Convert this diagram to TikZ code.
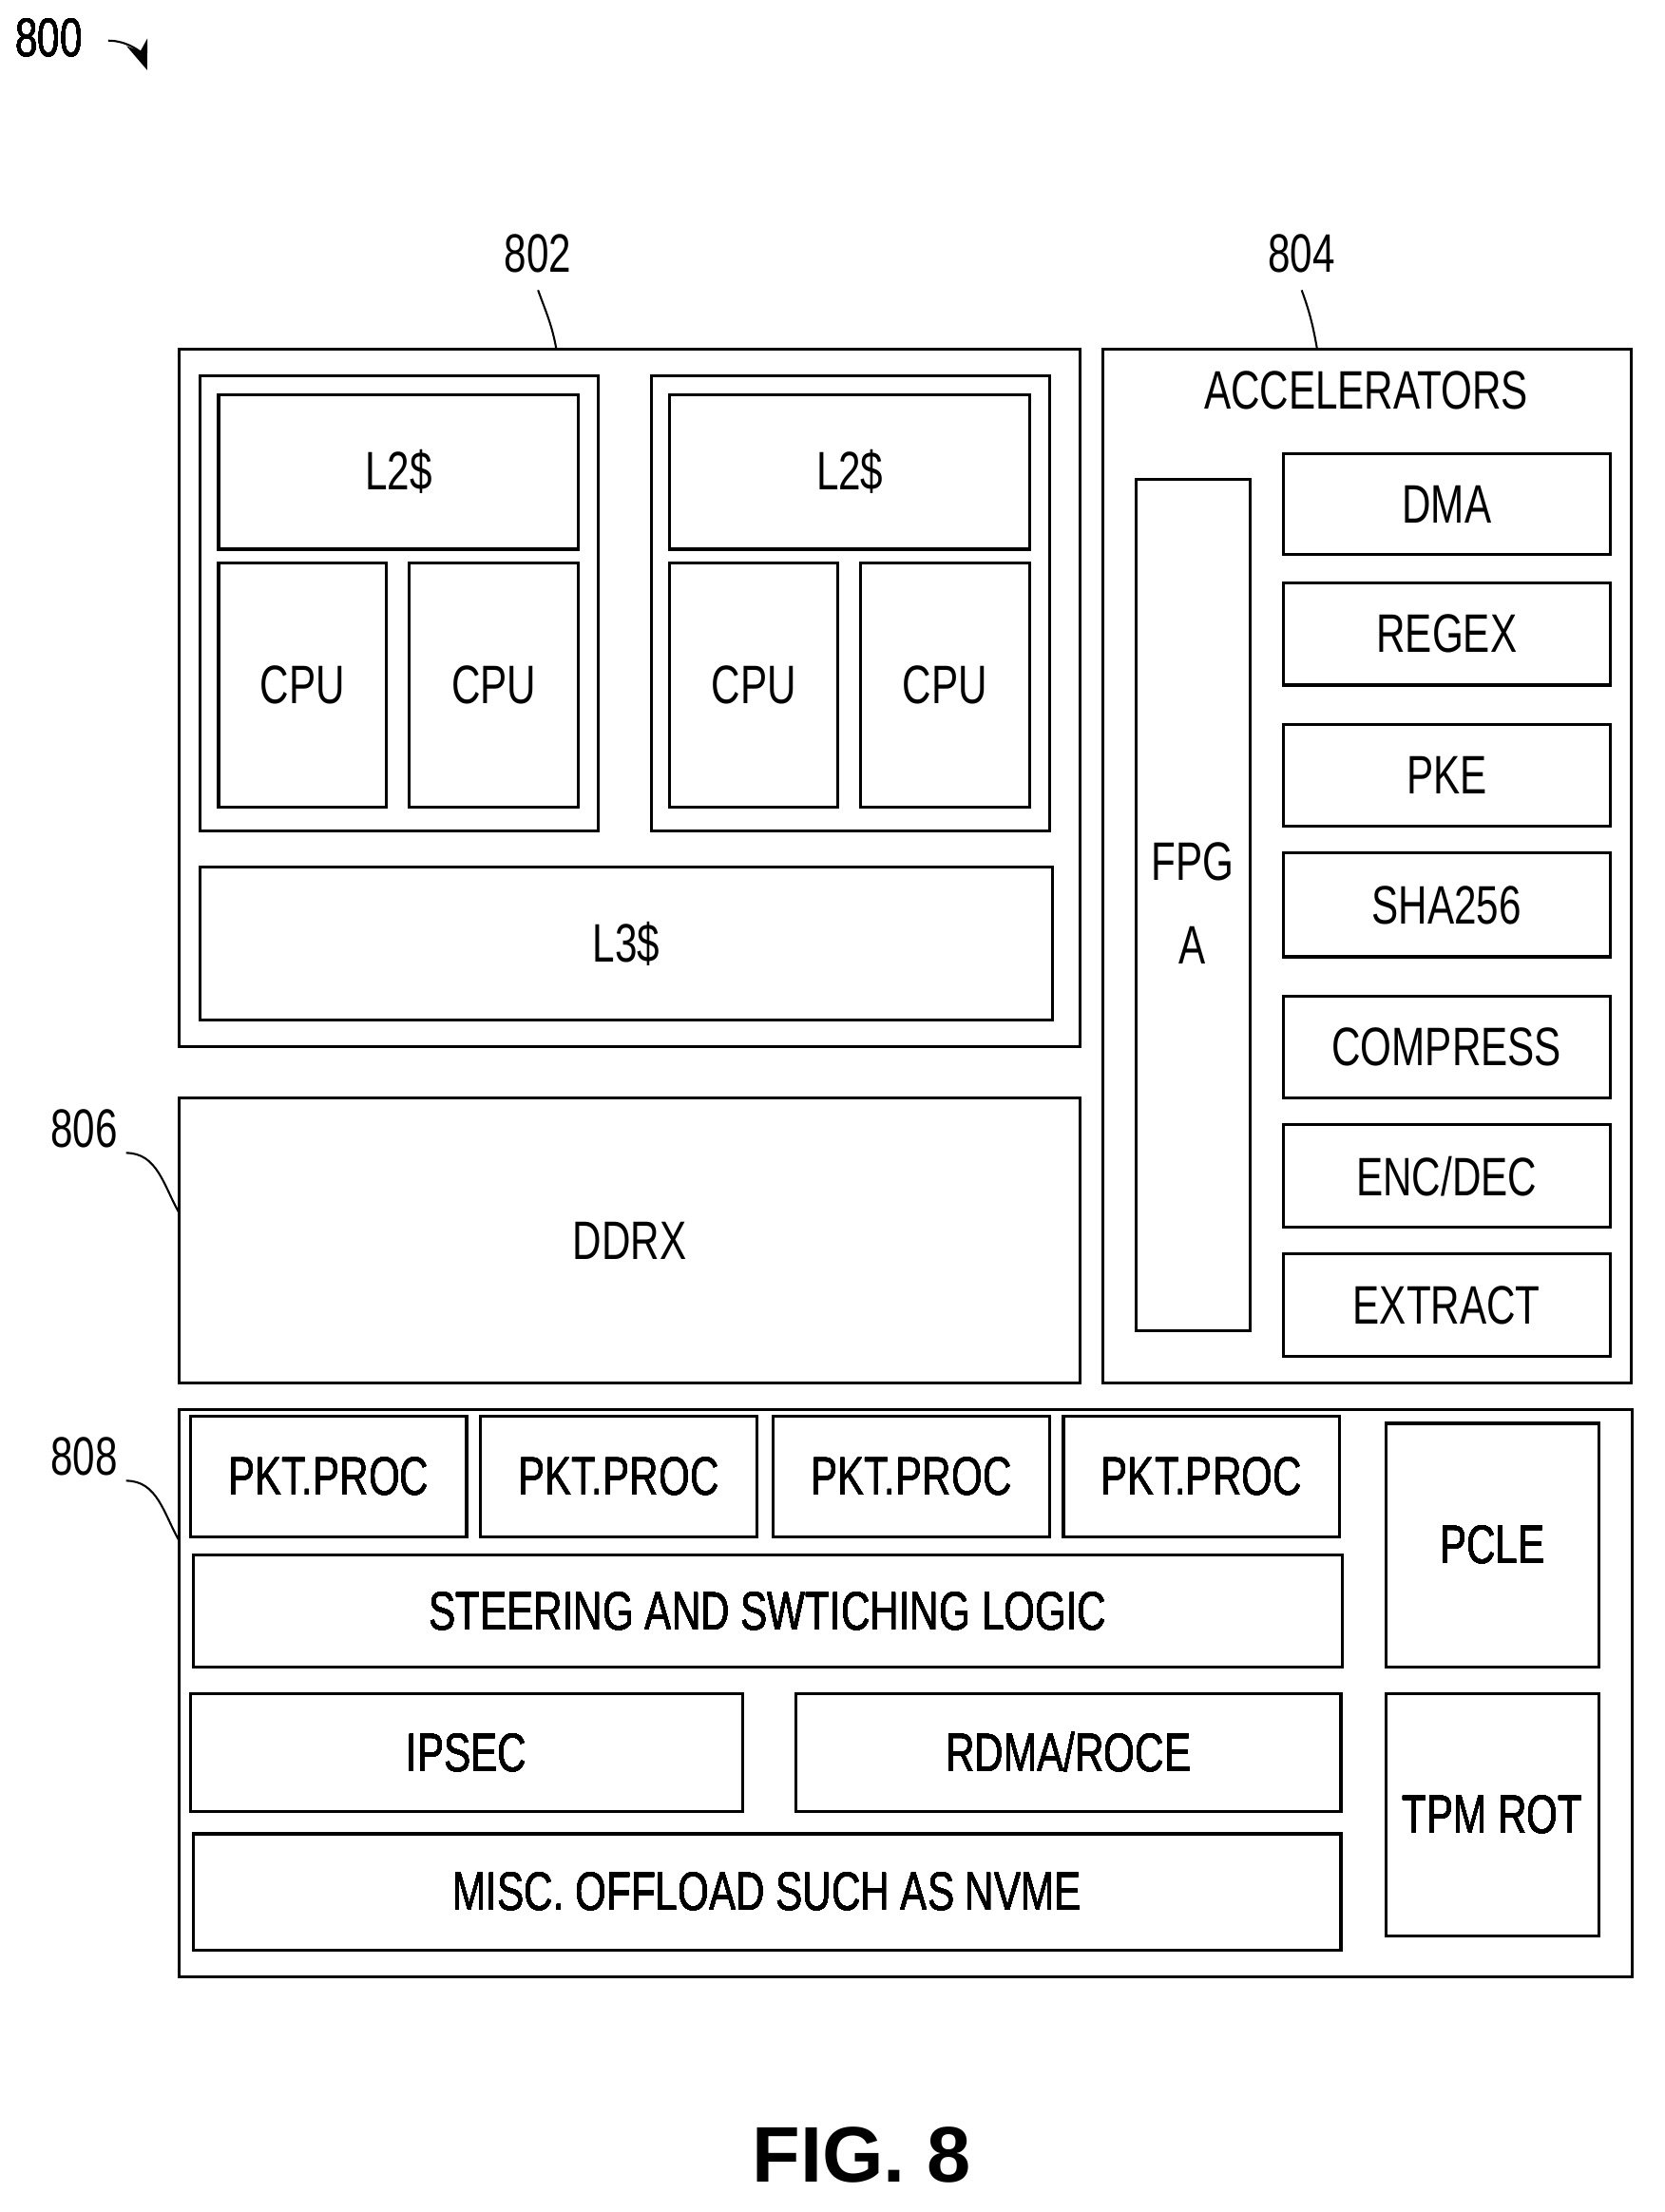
\documentclass[tikz,border=0pt]{standalone}
\usepackage{fontspec}
\setmainfont[FakeStretch=0.74]{Liberation Sans}
\newfontfamily\figfont{Liberation Sans}
\usetikzlibrary{arrows.meta}
\tikzstyle{blk}=[draw,semithick,rectangle,inner sep=0pt,font=\fontsize{11}{13}\selectfont,align=center]
\tikzstyle{ref}=[font=\fontsize{11}{13}\selectfont]
\tikzstyle{lead}=[draw,thin]
% block from top-left / bottom-right corners (image pixels)
\newcommand{\blk}[6]{%
  \pgfmathsetmacro{\bw}{(#4-#2)*0.01}%
  \pgfmathsetmacro{\bh}{(#5-#3)*0.01}%
  \node[blk,minimum width=\bw cm,minimum height=\bh cm] (#1) at ({(#2+#4)/2},{(#3+#5)/2}) {#6};}
\begin{document}
\begin{tikzpicture}[x=0.01cm,y=-0.01cm]
    \useasboundingbox (0,0) rectangle (1188,1579);
    % the core complex
    \blk{cmplx}{128}{249}{771}{747}{}
    \blk{clA}{143}{268}{427}{593}{}
    \blk{ltwoA}{156}{282}{413}{392}{L2\$}
    \blk{cpuA}{156}{402}{276}{576}{CPU}
    \blk{cpuB}{292}{402}{413}{576}{CPU}
    \blk{clB}{465}{268}{749}{593}{}
    \blk{ltwoB}{478}{282}{735}{392}{L2\$}
    \blk{cpuC}{478}{402}{598}{576}{CPU}
    \blk{cpuD}{614}{402}{735}{576}{CPU}
    \blk{lthree}{143}{619}{751}{728}{L3\$}
    \blk{ddrx}{128}{784}{771}{987}{DDRX}
    % accelerators
    \blk{accel}{787}{249}{1164}{987}{}
    \node[ref] (acctitle) at (975,279) {ACCELERATORS};
    \blk{fpga}{811}{342}{892}{950}{}
    \node[ref,align=center] (fpgatxt) at (851,645) {FPG\\[4pt]A};
    \foreach \name/\ya/\yb/\txt in {dma/324/396/DMA, regex/416/489/REGEX, pke/517/590/PKE,
        sha/609/683/SHA256, comp/711/784/COMPRESS, encdec/803/876/{ENC/DEC}, extr/895/968/EXTRACT}
        \blk{\name}{916}{\ya}{1149}{\yb}{\txt}
    % network block
    \blk{net}{128}{1006}{1165}{1411}{}
    \foreach \i/\xa/\xb in {1/136/333, 2/343/540, 3/552/749, 4/759/956}
        \blk{pkt\i}{\xa}{1011}{\xb}{1097}{PKT.PROC}
    \blk{steer}{138}{1110}{958}{1190}{STEERING AND SWTICHING LOGIC}
    \blk{ipsec}{136}{1209}{530}{1293}{IPSEC}
    \blk{rdma}{568}{1209}{957}{1293}{RDMA/ROCE}
    \blk{misc}{138}{1309}{957}{1392}{MISC. OFFLOAD SUCH AS NVME}
    \blk{pcle}{989}{1016}{1141}{1190}{PCLE}
    \blk{tpm}{989}{1209}{1141}{1382}{TPM ROT}
    % reference numerals
    \node[ref] (n800) at (35,27) {800};
    \coordinate (a800) at (105,50);
    \draw[-{Stealth[length=6pt]}] (n800.east) ++(6,2) to[out=0,in=110] (a800);
    \node[ref] (n802) at (384,181) {802};
    \draw[lead] (n802.south) to[out=-70,in=100] (397,249);
    \node[ref] (n804) at (929,181) {804};
    \draw[lead] (n804.south) to[out=-70,in=100] (940,249);
    \node[ref] (n806) at (60,806) {806};
    \draw[lead] (90,823) to[out=0,in=120] (128,866);
    \node[ref] (n808) at (60,1040) {808};
    \draw[lead] (90,1057) to[out=0,in=120] (128,1100);
    \node[font=\figfont\bfseries\fontsize{16}{20}\selectfont] (fig) at (615,1538) {FIG. 8};
\end{tikzpicture}
\end{document}
